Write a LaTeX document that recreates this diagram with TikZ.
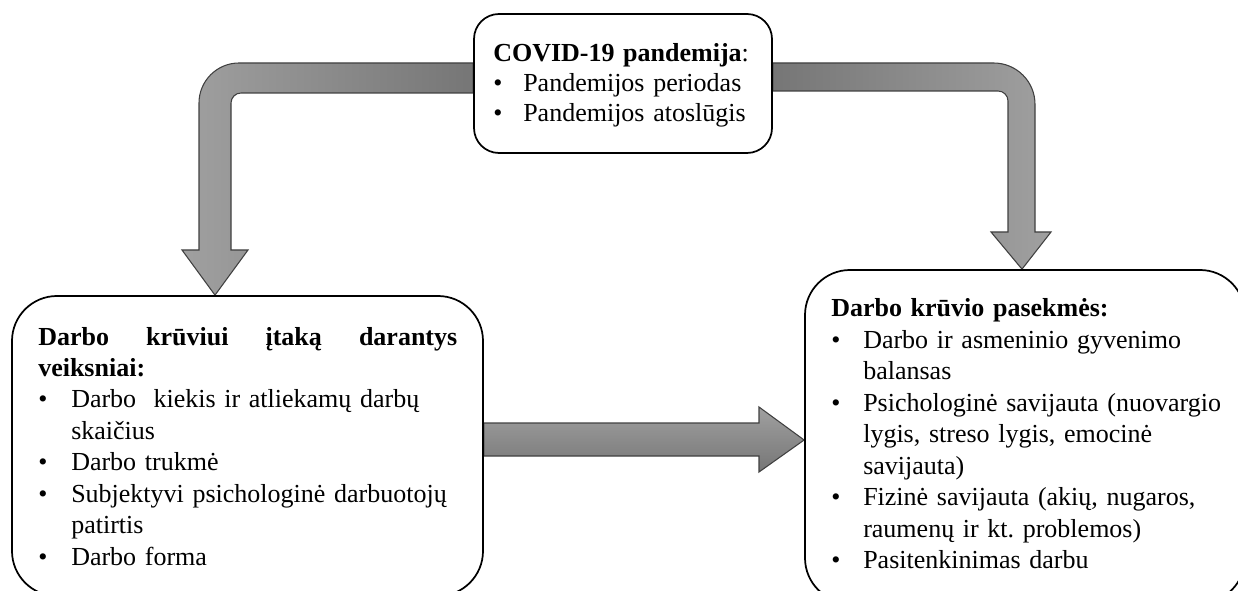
\documentclass[tikz,border=0pt]{standalone}
\usepackage{fontspec}
\setmainfont{Liberation Serif}
\usetikzlibrary{backgrounds}
\frenchspacing
\definecolor{arrowline}{RGB}{64,64,64}
\definecolor{arrowlight}{RGB}{160,160,160}
\definecolor{arrowdark}{RGB}{118,118,118}
% bullet item with hanging indent: #1 indent, #2 text
\newcommand{\bul}[2]{\par\hangindent=#1\hangafter=1\noindent\makebox[#1][l]{\textbullet}#2}

\begin{document}
\begin{tikzpicture}[x=0.75pt,y=-0.75pt,
  panel/.style={draw=black,line width=1.3pt,fill=white,rounded corners=#1,inner sep=0pt},
  paneltext/.style={anchor=base west,inner sep=0pt,text width=#1,
    font=\fontsize{19.5pt}{23.6pt}\selectfont},
  blockarrow/.style={draw=arrowline,line width=0.8pt,line join=miter}]
\useasboundingbox (0,0) rectangle (1238,591);

% boxes
\node[panel=18.75pt,minimum width=223.5pt,minimum height=104.25pt] (covid) at (623,83.5) {};
\node[panel=33.75pt,minimum width=353.25pt,minimum height=225pt] (factors) at (247.5,446) {};
\node[panel=33.75pt,minimum width=330pt,minimum height=249.75pt] (effects) at (1025,436.5) {};

% box texts
\node[paneltext=200pt,font=\fontsize{19.5pt}{22.4pt}\selectfont] (covidtext) at (493,62)
  {\raggedright\textbf{COVID-19 pandemija}:%
   \bul{22.5pt}{Pandemijos periodas}%
   \bul{22.5pt}{Pandemijos atoslūgis}};

\node[paneltext=314.25pt] (factorstext) at (38,345)
  {\raggedright\makebox[\linewidth]{\bfseries Darbo\hfill krūviui\hfill įtaką\hfill darantys}\par
   \textbf{veiksniai:}%
   \bul{24.75pt}{Darbo\ \ kiekis ir atliekamų darbų\newline skaičius}%
   \bul{24.75pt}{Darbo trukmė}%
   \bul{24.75pt}{Subjektyvi psichologinė darbuotojų\newline patirtis}%
   \bul{24.75pt}{Darbo forma}};

\node[paneltext=300pt] (effectstext) at (831,317)
  {\raggedright\textbf{Darbo krūvio pasekmės:}%
   \bul{24pt}{Darbo ir asmeninio gyvenimo\newline balansas}%
   \bul{24pt}{Psichologinė savijauta (nuovargio\newline lygis, streso lygis, emocinė\newline savijauta)}%
   \bul{24pt}{Fizinė savijauta (akių, nugaros,\newline raumenų ir kt. problemos)}%
   \bul{24pt}{Pasitenkinimas darbu}};

% block arrows behind the boxes
\begin{scope}[on background layer]
  \draw[blockarrow,left color=arrowlight,right color=arrowdark]
    (covid.west |- 0,63) [rounded corners=30pt] -- (199,63) [sharp corners] -- (199,250)
    -- (182,250) -- (factors.north -| 215,0) -- (248,250) -- (231,250)
    [rounded corners=7.5pt] -- (231,93) [sharp corners] -- (covid.west |- 0,93) -- cycle;
  \draw[blockarrow,left color=arrowdark,right color=arrowlight]
    (covid.east |- 0,63) [rounded corners=31pt] -- (1035,63) [sharp corners] -- (1035,232)
    -- (1051,232) -- (effects.north -| 1022,0) -- (991,232) -- (1008,232)
    [rounded corners=7.5pt] -- (1008,91) [sharp corners] -- (covid.east |- 0,91) -- cycle;
  \draw[blockarrow,top color=arrowlight,bottom color=arrowdark]
    (factors.east |- 0,423) -- (759,423) -- (759,407) -- (effects.west |- 0,440)
    -- (759,472) -- (759,456) -- (factors.east |- 0,456) -- cycle;
\end{scope}
\end{tikzpicture}
\end{document}
